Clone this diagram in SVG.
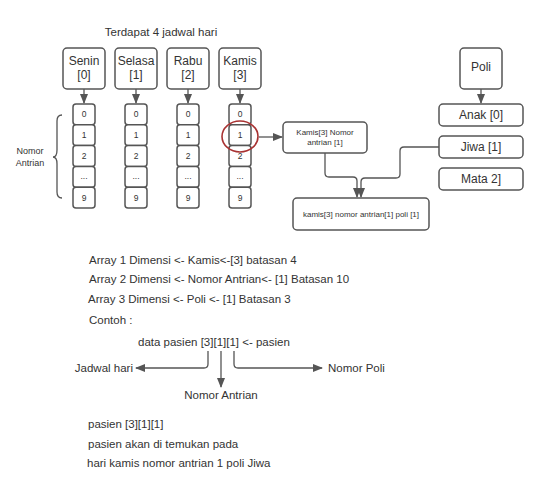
<svg xmlns="http://www.w3.org/2000/svg" width="544" height="498" viewBox="0 0 544 498">
<style>
text{font-family:"Liberation Sans",Arial,sans-serif;fill:#333}
.box{fill:#fff;stroke:#555;stroke-width:1.5}
.cell{fill:#fff;stroke:#555;stroke-width:1.5}
.t12{font-size:12px;text-anchor:middle}
.t11{font-size:11.5px}
.c{font-size:8.5px;text-anchor:middle}
.s8{font-size:8px;text-anchor:middle}
.ln{fill:none;stroke:#555;stroke-width:1.3}
</style>
<defs>
<marker id="ah" markerWidth="10" markerHeight="8" refX="9" refY="4" orient="auto" markerUnits="userSpaceOnUse">
<path d="M0,0 L10,4 L0,8 Z" fill="#555"/>
</marker>
</defs>
<rect width="544" height="498" fill="#fff"/>
<text class="t11" x="161" y="36" text-anchor="middle">Terdapat 4 jadwal hari</text>

<g id="senin"><rect class="box" x="63" y="48" width="42" height="41" rx="4"/><text class="t12" x="84" y="65">Senin</text><text class="t12" x="84" y="79">[0]</text></g>
<g id="selasa"><rect class="box" x="115" y="48" width="42" height="41" rx="4"/><text class="t12" x="136" y="65">Selasa</text><text class="t12" x="136" y="79">[1]</text></g>
<g id="rabu"><rect class="box" x="167" y="48" width="42" height="41" rx="4"/><text class="t12" x="188" y="65">Rabu</text><text class="t12" x="188" y="79">[2]</text></g>
<g id="kamis"><rect class="box" x="219" y="48" width="42" height="41" rx="4"/><text class="t12" x="240" y="65">Kamis</text><text class="t12" x="240" y="79">[3]</text></g>

<g id="col-senin">
<rect class="cell" x="73" y="104" width="22" height="20.8" rx="3"/><text class="c" x="84" y="117">0</text>
<rect class="cell" x="73" y="124.8" width="22" height="20.8" rx="3"/><text class="c" x="84" y="138">1</text>
<rect class="cell" x="73" y="145.6" width="22" height="20.8" rx="3"/><text class="c" x="84" y="159">2</text>
<rect class="cell" x="73" y="166.4" width="22" height="20.8" rx="3"/><text class="c" x="84" y="179">...</text>
<rect class="cell" x="73" y="187.2" width="22" height="20.8" rx="3"/><text class="c" x="84" y="200.5">9</text>
</g>
<g id="col-selasa">
<rect class="cell" x="125" y="104" width="22" height="20.8" rx="3"/><text class="c" x="136" y="117">0</text>
<rect class="cell" x="125" y="124.8" width="22" height="20.8" rx="3"/><text class="c" x="136" y="138">1</text>
<rect class="cell" x="125" y="145.6" width="22" height="20.8" rx="3"/><text class="c" x="136" y="159">2</text>
<rect class="cell" x="125" y="166.4" width="22" height="20.8" rx="3"/><text class="c" x="136" y="179">...</text>
<rect class="cell" x="125" y="187.2" width="22" height="20.8" rx="3"/><text class="c" x="136" y="200.5">9</text>
</g>
<g id="col-rabu">
<rect class="cell" x="177" y="104" width="22" height="20.8" rx="3"/><text class="c" x="188" y="117">0</text>
<rect class="cell" x="177" y="124.8" width="22" height="20.8" rx="3"/><text class="c" x="188" y="138">1</text>
<rect class="cell" x="177" y="145.6" width="22" height="20.8" rx="3"/><text class="c" x="188" y="159">2</text>
<rect class="cell" x="177" y="166.4" width="22" height="20.8" rx="3"/><text class="c" x="188" y="179">...</text>
<rect class="cell" x="177" y="187.2" width="22" height="20.8" rx="3"/><text class="c" x="188" y="200.5">9</text>
</g>
<g id="col-kamis">
<rect class="cell" x="229" y="104" width="22" height="20.8" rx="3"/><text class="c" x="240" y="117">0</text>
<rect class="cell" x="229" y="124.8" width="22" height="20.8" rx="3"/><text class="c" x="240" y="138">1</text>
<rect class="cell" x="229" y="145.6" width="22" height="20.8" rx="3"/><text class="c" x="240" y="159">2</text>
<rect class="cell" x="229" y="166.4" width="22" height="20.8" rx="3"/><text class="c" x="240" y="179">...</text>
<rect class="cell" x="229" y="187.2" width="22" height="20.8" rx="3"/><text class="c" x="240" y="200.5">9</text>
</g>

<g id="brace">
<path class="ln" d="M62,115 Q57,115 57,121 L57,150 Q57,157 53,157 Q57,157 57,164 L57,192 Q57,198 62,198"/>
<text x="30" y="154" font-size="9px" text-anchor="middle">Nomor</text>
<text x="30" y="166" font-size="9px" text-anchor="middle">Antrian</text>
</g>

<g id="highlight"><ellipse cx="240" cy="136.5" rx="18" ry="15.5" fill="none" stroke="#a83232" stroke-width="1.6"/></g>

<g id="kamis-nomor"><rect class="box" x="283" y="122" width="84" height="31" rx="4"/><text class="s8" x="325" y="135">Kamis[3] Nomor</text><text class="s8" x="325" y="145">antrian [1]</text></g>

<g id="poli"><rect class="box" x="460" y="48" width="42" height="41" rx="4"/><text class="t12" x="481" y="71">Poli</text></g>
<g id="anak"><rect class="box" x="439" y="104" width="84" height="22" rx="4"/><text class="t12" x="481" y="119">Anak [0]</text></g>
<g id="jiwa"><rect class="box" x="439" y="136" width="84" height="22" rx="4"/><text class="t12" x="481" y="151">Jiwa [1]</text></g>
<g id="mata"><rect class="box" x="439" y="168" width="84" height="22" rx="4"/><text class="t12" x="481" y="183">Mata 2]</text></g>

<g id="result"><rect class="box" x="293" y="198" width="136" height="32" rx="4"/><text class="s8" x="361" y="217">kamis[3] nomor antrian[1] poli [1]</text></g>

<g id="connectors">
<path class="ln" d="M84,89 V103" marker-end="url(#ah)"/>
<path class="ln" d="M136,89 V103" marker-end="url(#ah)"/>
<path class="ln" d="M188,89 V103" marker-end="url(#ah)"/>
<path class="ln" d="M240,89 V103" marker-end="url(#ah)"/>
<path class="ln" d="M481,89 V103" marker-end="url(#ah)"/>
<path class="ln" d="M259,137 H282" marker-end="url(#ah)"/>
<path class="ln" d="M325,153 V173 Q325,177 329,177 H353 Q357,177 357,181 V197" marker-end="url(#ah)"/>
<path class="ln" d="M439,147 H404 Q400,147 400,151 V174 Q400,178 396,178 H365 Q361,178 361,182 V197" marker-end="url(#ah)"/>
<path class="ln" d="M208,351 V364 Q208,368 204,368 H136" marker-end="url(#ah)"/>
<path class="ln" d="M221,351 V387" marker-end="url(#ah)"/>
<path class="ln" d="M234,351 V364 Q234,368 238,368 H322" marker-end="url(#ah)"/>
</g>

<g id="notes">
<text class="t11" x="89" y="264">Array 1 Dimensi &lt;- Kamis&lt;-[3] batasan 4</text>
<text class="t11" x="89" y="283">Array 2 Dimensi &lt;- Nomor Antrian&lt;- [1] Batasan 10</text>
<text class="t11" x="88" y="303">Array 3 Dimensi &lt;- Poli &lt;- [1] Batasan 3</text>
<text class="t11" x="89" y="324">Contoh :</text>
<text class="t11" x="138" y="346">data pasien [3][1][1] &lt;- pasien</text>
<text class="t11" x="133" y="372" text-anchor="end">Jadwal hari</text>
<text class="t11" x="328" y="372">Nomor Poli</text>
<text class="t11" x="221" y="399" text-anchor="middle">Nomor Antrian</text>
<text class="t11" x="88" y="428">pasien [3][1][1]</text>
<text class="t11" x="88" y="448">pasien akan di temukan pada</text>
<text class="t11" x="87" y="467">hari kamis nomor antrian 1 poli Jiwa</text>
</g>
</svg>
